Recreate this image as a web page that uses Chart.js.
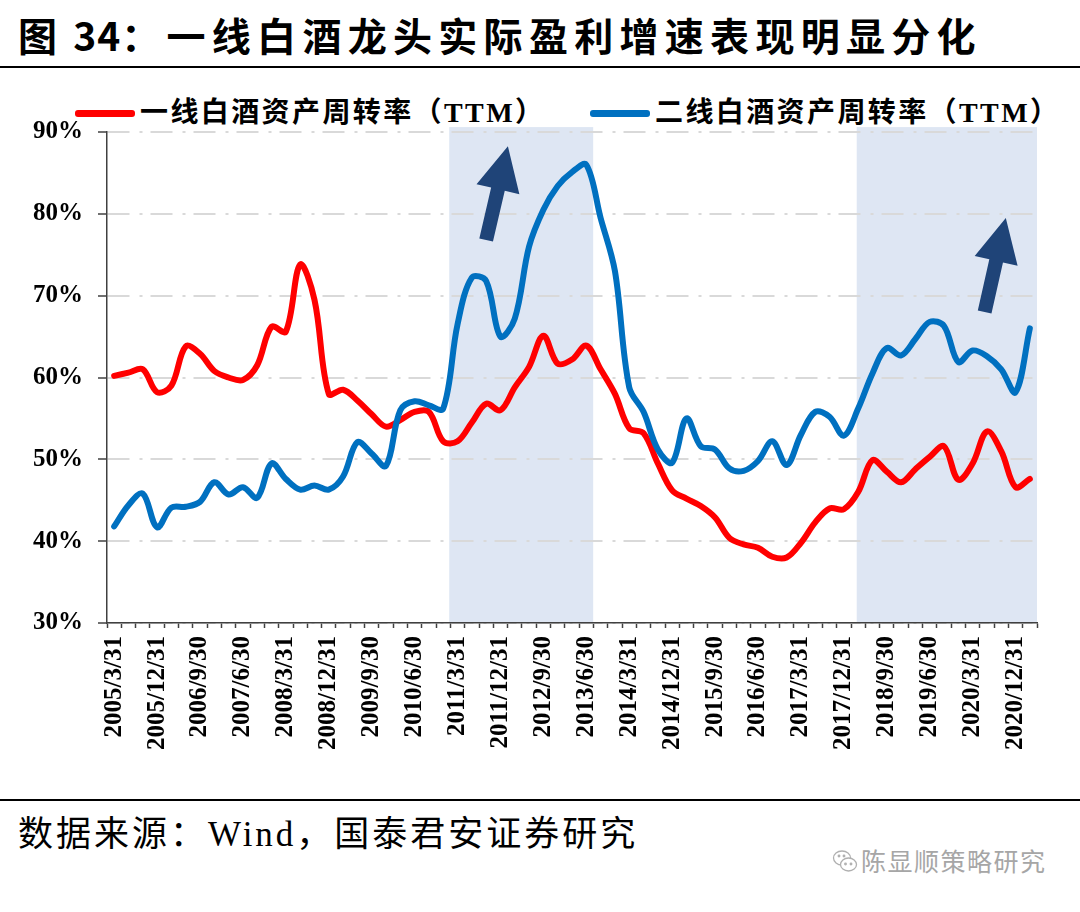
<!DOCTYPE html>
<html>
<head>
<meta charset="utf-8">
<script src="https://cdn.jsdelivr.net/npm/chart.js@4.4.0/dist/chart.umd.min.js"></script>
<style>
  body { margin: 0; width: 1080px; height: 912px; background: #fff; position: relative; overflow: hidden; }
  #title { position: absolute; left: 18px; top: 15px; font: bold 39px/1 'Noto Sans CJK SC', sans-serif; letter-spacing: 6.3px; white-space: nowrap; color: #000; }
  #title span { letter-spacing: 1px; }
  .rule { position: absolute; left: 0; width: 1080px; height: 2px; background: #000; }
  .legItem { position: absolute; top: 99px; font: bold 28px/1 'Liberation Serif', 'Noto Sans CJK SC', serif; letter-spacing: 2.4px; white-space: nowrap; color: #000; }
  .legLine { position: absolute; top: 110px; width: 60px; height: 7px; border-radius: 3px; }
  #chartBox { position: absolute; left: 0; top: 102px; width: 1080px; height: 671px; }
  #source { position: absolute; left: 18px; top: 817px; font: 35px/1 'Liberation Serif', 'Noto Sans CJK SC', serif; letter-spacing: 3px; white-space: nowrap; color: #000; }
  #mark { position: absolute; left: 832px; top: 848px; font: 25px/1 'Noto Sans CJK SC', sans-serif; letter-spacing: 1.5px; color: #a6a6a6; white-space: nowrap; }
  #mark svg { vertical-align: -4px; margin-right: 3px; }
</style>
</head>
<body>
<div id="title">图<span> 34</span>：一线白酒龙头实际盈利增速表现明显分化</div>
<div class="rule" style="top:66px"></div>
<div id="legend"></div>
<div id="chartBox"><canvas id="chart" width="1080" height="671"></canvas></div>
<div class="rule" style="top:799px"></div>
<div id="source">数据来源：Wind，国泰君安证券研究</div>
<div id="mark"><svg width="26" height="26" viewBox="0 0 26 26" fill="none" stroke="#b0b0b0" stroke-width="1.3"><ellipse cx="10" cy="9" rx="8.5" ry="7"/><ellipse cx="16.5" cy="15.5" rx="8" ry="6.5" fill="#fff"/><circle cx="7" cy="7" r="0.8"/><circle cx="12" cy="7" r="0.8"/><circle cx="13.5" cy="15" r="0.8"/><circle cx="19" cy="15" r="0.8"/></svg>陈显顺策略研究</div>

<script>
// 季度日期
const quarters = [
  '2005/3/31', '2005/6/30', '2005/9/30', '2005/12/31',
  '2006/3/31', '2006/6/30', '2006/9/30', '2006/12/31',
  '2007/3/31', '2007/6/30', '2007/9/30', '2007/12/31',
  '2008/3/31', '2008/6/30', '2008/9/30', '2008/12/31',
  '2009/3/31', '2009/6/30', '2009/9/30', '2009/12/31',
  '2010/3/31', '2010/6/30', '2010/9/30', '2010/12/31',
  '2011/3/31', '2011/6/30', '2011/9/30', '2011/12/31',
  '2012/3/31', '2012/6/30', '2012/9/30', '2012/12/31',
  '2013/3/31', '2013/6/30', '2013/9/30', '2013/12/31',
  '2014/3/31', '2014/6/30', '2014/9/30', '2014/12/31',
  '2015/3/31', '2015/6/30', '2015/9/30', '2015/12/31',
  '2016/3/31', '2016/6/30', '2016/9/30', '2016/12/31',
  '2017/3/31', '2017/6/30', '2017/9/30', '2017/12/31',
  '2018/3/31', '2018/6/30', '2018/9/30', '2018/12/31',
  '2019/3/31', '2019/6/30', '2019/9/30', '2019/12/31',
  '2020/3/31', '2020/6/30', '2020/9/30', '2020/12/31',
  '2021/3/31'
];

// 一线白酒资产周转率（TTM），%
const tier1Turnover = [
  60.2, 60.6, 61.0, 58.2, 59.0, 63.8, 62.9, 60.8, 60.0, 59.7,
  61.5, 66.2, 65.6, 73.8, 69.5, 58.0, 58.5, 57.2, 55.5, 54.0,
  54.8, 55.8, 55.8, 52.2, 52.2, 54.5, 56.8, 56.0, 58.8, 61.3,
  65.1, 61.7, 62.2, 63.9, 61.0, 58.0, 53.8, 53.2, 49.5, 46.2,
  45.2, 44.3, 42.9, 40.4, 39.6, 39.2, 38.1, 38.0, 39.8, 42.3,
  44.0, 43.9, 46.0, 49.9, 48.5, 47.2, 48.8, 50.3, 51.6, 47.5,
  49.5, 53.4, 51.0, 46.6, 47.6
];

// 二线白酒资产周转率（TTM），%
const tier2Turnover = [
  41.8, 44.4, 45.8, 41.7, 44.1, 44.2, 44.8, 47.2, 45.7, 46.6,
  45.3, 49.5, 47.6, 46.3, 46.8, 46.3, 47.9, 52.1, 50.7, 49.2,
  56.0, 57.1, 56.6, 56.2, 66.5, 72.2, 71.8, 65.0, 67.2, 76.0,
  80.5, 83.4, 85.1, 86.0, 79.5, 73.0, 58.8, 55.8, 51.2, 49.6,
  55.0, 51.6, 51.2, 48.9, 48.6, 49.8, 52.2, 49.3, 53.0, 55.8,
  55.2, 52.9, 56.2, 60.5, 63.6, 62.7, 64.7, 66.8, 66.3, 61.9,
  63.3, 62.6, 61.0, 58.2, 66.0
];

// 刻度
const yTicks = [30, 40, 50, 60, 70, 80, 90];
const labelEvery = 3;

// 阴影区间（以季度序号计）
const shadeRanges = [[23.42, 33.48], [51.9, 64.5]];

// 箭头：[起点序号, 起点值, 终点序号, 终点值]
const arrows = [[26.0, 76.8, 27.52, 88.25], [60.84, 68.0, 62.32, 79.5]];

const serifFont = "'Liberation Serif', 'Times New Roman', serif";

// 背景阴影
const shadePlugin = {
  id: 'shade',
  beforeDraw(chart) {
    const { ctx, chartArea, scales: { x, y } } = chart;
    ctx.save();
    ctx.fillStyle = '#dee6f3';
    shadeRanges.forEach(([a, b]) => {
      const x1 = x.getPixelForValue(a);
      const x2 = Math.min(x.getPixelForValue(b), chartArea.right);
      const top = y.getPixelForValue(90.6);
      ctx.fillRect(x1, top, x2 - x1, chartArea.bottom - top);
    });
    ctx.restore();
  }
};

// 上涨箭头
const arrowPlugin = {
  id: 'arrows',
  afterDatasetsDraw(chart) {
    const { ctx, scales: { x, y } } = chart;
    ctx.save();
    ctx.fillStyle = '#1f4478';
    arrows.forEach(([i0, v0, i1, v1]) => {
      const x0 = x.getPixelForValue(i0), y0 = y.getPixelForValue(v0);
      const x1 = x.getPixelForValue(i1), y1 = y.getPixelForValue(v1);
      const len = Math.hypot(x1 - x0, y1 - y0);
      ctx.save();
      ctx.translate(x0, y0);
      ctx.rotate(Math.atan2(y1 - y0, x1 - x0));
      ctx.beginPath();
      ctx.moveTo(0, -7);
      ctx.lineTo(len - 44, -7);
      ctx.lineTo(len - 44, -22);
      ctx.lineTo(len, 0);
      ctx.lineTo(len - 44, 22);
      ctx.lineTo(len - 44, 7);
      ctx.lineTo(0, 7);
      ctx.closePath();
      ctx.fill();
      ctx.restore();
    });
    ctx.restore();
  }
};

const ctx = document.getElementById('chart').getContext('2d');
const turnoverChart = new Chart(ctx, {
  type: 'line',
  data: {
    labels: quarters,
    datasets: [
      {
        label: '一线白酒资产周转率（TTM）',
        data: tier1Turnover,
        borderColor: '#ff0000',
        borderWidth: 6,
        pointRadius: 0,
        tension: 0.35,
        borderJoinStyle: 'round',
        borderCapStyle: 'round',
        order: 1
      },
      {
        label: '二线白酒资产周转率（TTM）',
        data: tier2Turnover,
        borderColor: '#0070c0',
        borderWidth: 6,
        pointRadius: 0,
        tension: 0.35,
        borderJoinStyle: 'round',
        borderCapStyle: 'round',
        order: 0
      }
    ]
  },
  options: {
    responsive: false,
    animation: false,
    layout: { padding: { top: 20, right: 43, left: 0, bottom: 0 } },
    plugins: {
      legend: { display: false },
      tooltip: { enabled: false }
    },
    scales: {
      x: {
        offset: true,
        afterFit: s => { s.height = 150; },
        grid: { offset: true, drawOnChartArea: false, drawTicks: true, tickLength: 5, tickColor: '#404040', tickWidth: 1.5 },
        border: { color: '#404040', width: 1.5 },
        ticks: {
          autoSkip: false,
          maxRotation: 90,
          minRotation: 90,
          padding: 8,
          color: '#000',
          font: { family: serifFont, size: 25, weight: 'bold' },
          callback: (v, i) => (i % labelEvery === 0 ? quarters[i] : '')
        }
      },
      y: {
        min: 30,
        max: 90,
        afterFit: s => { s.width = 107; },
        afterBuildTicks: s => { s.ticks = yTicks.map(v => ({ value: v })); },
        grid: { color: '#d9d9d9', lineWidth: 2, tickColor: '#404040', tickWidth: 1.5, tickLength: 9 },
        border: { color: '#404040', width: 1.5, dash: [22, 10, 3, 8] },
        ticks: {
          padding: 15,
          color: '#000',
          font: { family: serifFont, size: 25, weight: 'bold' },
          callback: v => v + '%'
        }
      }
    }
  },
  plugins: [shadePlugin, arrowPlugin]
});

// 图例
const legendPos = [[75, 140], [590, 655]];
const legendBox = document.getElementById('legend');
turnoverChart.data.datasets.forEach((ds, k) => {
  const line = document.createElement('div');
  line.className = 'legLine';
  line.style.left = legendPos[k][0] + 'px';
  line.style.background = ds.borderColor;
  legendBox.appendChild(line);
  const txt = document.createElement('div');
  txt.className = 'legItem';
  txt.style.left = legendPos[k][1] + 'px';
  txt.textContent = ds.label;
  legendBox.appendChild(txt);
});
</script>
</body>
</html>
